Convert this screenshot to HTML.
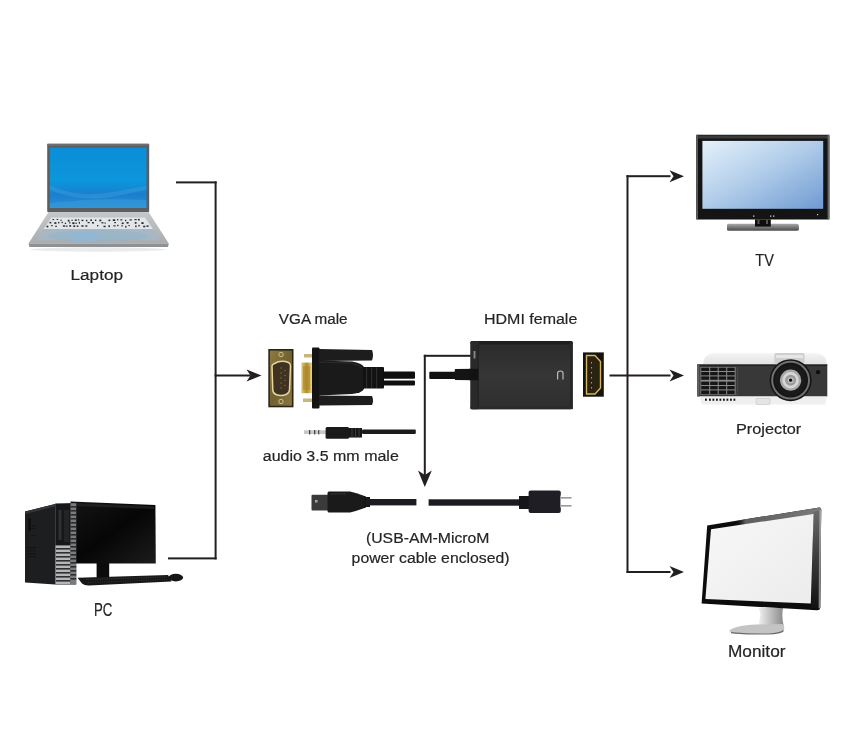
<!DOCTYPE html>
<html><head><meta charset="utf-8">
<style>
html,body{margin:0;padding:0;background:#fff;}
body{width:850px;height:744px;overflow:hidden;position:relative;}
svg{position:absolute;left:0;top:0;will-change:transform;}
text{font-family:"Liberation Sans",sans-serif;fill:#262324;font-size:15.5px;stroke:#262324;stroke-width:0.2px;}
</style></head><body>
<svg width="850" height="744" viewBox="0 0 850 744">
<defs>
  <linearGradient id="lapScreen" x1="0" y1="0" x2="0" y2="1">
    <stop offset="0" stop-color="#0b8ed7"/><stop offset="0.55" stop-color="#0c96db"/><stop offset="0.78" stop-color="#1a7fcd"/><stop offset="1" stop-color="#2790d6"/>
  </linearGradient>
  <linearGradient id="lapBase" x1="0" y1="0" x2="0" y2="1">
    <stop offset="0" stop-color="#c4c8cb"/><stop offset="1" stop-color="#a9adb0"/>
  </linearGradient>
  <linearGradient id="tvScreen" x1="0" y1="0" x2="1" y2="1">
    <stop offset="0" stop-color="#e4f1fa"/><stop offset="0.45" stop-color="#b4cfeb"/><stop offset="1" stop-color="#6f9bd2"/>
  </linearGradient>
  <linearGradient id="monScreen" x1="0" y1="0" x2="1" y2="1">
    <stop offset="0" stop-color="#f7f7f7"/><stop offset="1" stop-color="#ececec"/>
  </linearGradient>
  <linearGradient id="pcMon" x1="0" y1="0" x2="1" y2="1">
    <stop offset="0" stop-color="#141414"/><stop offset="0.5" stop-color="#060606"/><stop offset="1" stop-color="#1c1c1c"/>
  </linearGradient>
  <linearGradient id="hdmiBox" x1="0" y1="0" x2="0" y2="1">
    <stop offset="0" stop-color="#2a2a2a"/><stop offset="0.5" stop-color="#363636"/><stop offset="1" stop-color="#2e2e2e"/>
  </linearGradient>
  <linearGradient id="gold" x1="0" y1="0" x2="1" y2="1">
    <stop offset="0" stop-color="#8e7b40"/><stop offset="0.5" stop-color="#726232"/><stop offset="1" stop-color="#887540"/>
  </linearGradient>
  <linearGradient id="pinGold" x1="0" y1="0" x2="1" y2="0">
    <stop offset="0" stop-color="#e2c870"/><stop offset="0.5" stop-color="#b08a2a"/><stop offset="1" stop-color="#f0da90"/>
  </linearGradient>
  <linearGradient id="tvBase" x1="0" y1="0" x2="0" y2="1">
    <stop offset="0" stop-color="#a8a8a8"/><stop offset="0.5" stop-color="#7a7a7a"/><stop offset="1" stop-color="#4a4a4a"/>
  </linearGradient>
  <linearGradient id="projTop" x1="0" y1="0" x2="0" y2="1">
    <stop offset="0" stop-color="#f4f4f4"/><stop offset="1" stop-color="#e2e2e2"/>
  </linearGradient>
  <linearGradient id="monTop" x1="0" y1="0" x2="1" y2="0">
    <stop offset="0" stop-color="#0c0c0c" stop-opacity="0"/><stop offset="0.12" stop-color="#5e5e5e"/><stop offset="1" stop-color="#7a7a7a"/>
  </linearGradient>
  <linearGradient id="monRight" x1="0" y1="0" x2="0" y2="1">
    <stop offset="0" stop-color="#6a6a6a"/><stop offset="0.5" stop-color="#3a3a3a"/><stop offset="1" stop-color="#111"/>
  </linearGradient>
  <linearGradient id="monStand" x1="0" y1="0" x2="1" y2="0">
    <stop offset="0" stop-color="#f0f0f0"/><stop offset="0.55" stop-color="#b8b8b8"/><stop offset="1" stop-color="#8a8a8a"/>
  </linearGradient>
</defs>

<!-- ===== connector lines ===== -->
<g fill="#231f20">
  <rect x="176" y="181.4" width="40.6" height="2"/>
  <rect x="214.6" y="181.4" width="2" height="378"/>
  <rect x="168" y="557.4" width="48.6" height="2"/>
  <rect x="214.6" y="374.5" width="36" height="2"/>
  <path d="M261.5,375.5 L246.5,369.5 L250.5,375.5 L246.5,381.5 Z"/>

  <rect x="423.8" y="354.8" width="47" height="2"/>
  <rect x="423.8" y="354.8" width="2" height="122"/>
  <path d="M424.8,487 L418,470.5 L424.8,475 L431.8,470.5 Z"/>

  <rect x="626.5" y="175.2" width="2" height="397.8"/>
  <rect x="626.5" y="175.2" width="44" height="2"/>
  <rect x="609.5" y="374.5" width="61" height="2"/>
  <rect x="626.5" y="571" width="44" height="2"/>
  <path d="M684,176.2 L669.5,170.2 L673.5,176.2 L669.5,182.2 Z"/>
  <path d="M684,375.5 L669.5,369.5 L673.5,375.5 L669.5,381.5 Z"/>
  <path d="M684,572 L669.5,566 L673.5,572 L669.5,578 Z"/>
</g>

<!-- ===== labels ===== -->
<text x="70.5" y="280.2" textLength="52.5" lengthAdjust="spacingAndGlyphs">Laptop</text>
<text x="94" y="615.9" textLength="18.3" lengthAdjust="spacingAndGlyphs" style="font-size:17.5px">PC</text>
<text x="278.8" y="324" textLength="68.8" lengthAdjust="spacingAndGlyphs">VGA male</text>
<text x="262.8" y="460.7" textLength="136" lengthAdjust="spacingAndGlyphs">audio 3.5 mm male</text>
<text x="484" y="324" textLength="93.3" lengthAdjust="spacingAndGlyphs">HDMI female</text>
<text x="366" y="543.3" textLength="123.4" lengthAdjust="spacingAndGlyphs">(USB-AM-MicroM</text>
<text x="351.6" y="563.4" textLength="158" lengthAdjust="spacingAndGlyphs">power cable enclosed)</text>
<text x="755.3" y="265.6" textLength="18.6" lengthAdjust="spacingAndGlyphs" style="font-size:16.3px">TV</text>
<text x="736" y="433.5" textLength="65.2" lengthAdjust="spacingAndGlyphs">Projector</text>
<text x="728" y="657.4" textLength="57.5" lengthAdjust="spacingAndGlyphs" style="font-size:16.2px">Monitor</text>


<!-- LAPTOP -->
<g>
  <rect x="47.2" y="143.8" width="102" height="68.5" rx="1.2" fill="#5b5f62"/>
  <rect x="47.2" y="143.8" width="102" height="2" fill="#6c7073"/>
  <rect x="49.8" y="147.6" width="96.6" height="60.4" fill="url(#lapScreen)"/>
  <path d="M49.8,185 C60,190 75,195 95,194 C115,193 130,188 146.4,186 L146.4,190 C128,193 112,198 95,198.5 C75,199 60,194 49.8,190 Z" fill="#48a6e0" opacity="0.35"/>
  <path d="M49.8,203 C75,200 110,198 146.4,200 L146.4,208 L49.8,208 Z" fill="#3a9ad8" opacity="0.6"/>
  <path d="M48.6,212 L148.6,212 L168.8,243.5 L28.5,243.5 Z" fill="url(#lapBase)"/>
  <path d="M28.5,243.5 L168.8,243.5 L168,247 L29.5,247 Z" fill="#8d9194"/>
  <path d="M51.5,217.6 L145,217.6 L153,229 L43.5,229 Z" fill="#e2e6e9"/>
  <g fill="#26292c">
    <rect x="52.5" y="219.0" width="1.6" height="1.1"/>
    <rect x="56.6" y="218.9" width="1.6" height="1.0"/>
    <rect x="60.4" y="219.7" width="1.3" height="1.1"/>
    <rect x="67.8" y="219.8" width="1.7" height="1.8"/>
    <rect x="71.4" y="219.7" width="1.4" height="1.1"/>
    <rect x="74.8" y="219.4" width="1.9" height="1.5"/>
    <rect x="77.9" y="219.3" width="1.3" height="1.2"/>
    <rect x="81.5" y="219.7" width="1.9" height="1.4"/>
    <rect x="85.9" y="219.8" width="1.5" height="1.5"/>
    <rect x="90.4" y="219.3" width="1.5" height="1.8"/>
    <rect x="94.9" y="219.6" width="1.4" height="1.4"/>
    <rect x="99.4" y="219.6" width="1.9" height="1.7"/>
    <rect x="108.5" y="219.6" width="1.8" height="1.5"/>
    <rect x="112.8" y="219.3" width="2.4" height="1.7"/>
    <rect x="117.1" y="219.0" width="1.2" height="1.4"/>
    <rect x="120.3" y="219.3" width="2.1" height="1.1"/>
    <rect x="125.0" y="219.8" width="1.3" height="1.4"/>
    <rect x="129.6" y="219.3" width="2.2" height="1.2"/>
    <rect x="134.4" y="219.1" width="2.3" height="1.1"/>
    <rect x="137.9" y="218.9" width="1.8" height="1.5"/>
    <rect x="49.5" y="221.9" width="1.8" height="1.5"/>
    <rect x="54.3" y="222.2" width="2.1" height="1.7"/>
    <rect x="58.1" y="221.9" width="1.3" height="1.5"/>
    <rect x="61.5" y="221.8" width="1.4" height="1.3"/>
    <rect x="64.8" y="222.7" width="1.3" height="1.3"/>
    <rect x="69.0" y="222.2" width="1.4" height="1.2"/>
    <rect x="72.3" y="222.3" width="2.2" height="1.8"/>
    <rect x="75.5" y="222.6" width="1.3" height="1.3"/>
    <rect x="78.8" y="221.9" width="1.2" height="1.8"/>
    <rect x="87.6" y="222.0" width="2.0" height="1.2"/>
    <rect x="92.1" y="222.0" width="1.8" height="1.6"/>
    <rect x="101.4" y="222.2" width="2.1" height="1.2"/>
    <rect x="104.5" y="222.5" width="1.2" height="1.2"/>
    <rect x="114.3" y="222.0" width="1.6" height="1.2"/>
    <rect x="121.7" y="222.5" width="2.0" height="1.6"/>
    <rect x="126.5" y="222.0" width="2.1" height="1.6"/>
    <rect x="134.8" y="222.0" width="1.7" height="1.8"/>
    <rect x="141.4" y="222.2" width="2.2" height="1.8"/>
    <rect x="46.5" y="225.7" width="1.8" height="1.7"/>
    <rect x="51.2" y="225.0" width="1.5" height="1.2"/>
    <rect x="55.3" y="225.7" width="1.5" height="1.3"/>
    <rect x="62.9" y="225.3" width="2.3" height="1.4"/>
    <rect x="65.9" y="225.6" width="1.7" height="1.1"/>
    <rect x="69.3" y="225.1" width="1.8" height="1.6"/>
    <rect x="73.3" y="225.4" width="1.9" height="1.6"/>
    <rect x="76.8" y="225.4" width="1.5" height="1.6"/>
    <rect x="81.3" y="225.3" width="2.3" height="1.4"/>
    <rect x="85.3" y="225.3" width="2.0" height="1.4"/>
    <rect x="97.0" y="225.0" width="1.3" height="1.4"/>
    <rect x="103.5" y="225.7" width="2.1" height="1.5"/>
    <rect x="108.4" y="225.3" width="1.5" height="1.8"/>
    <rect x="113.4" y="225.3" width="2.2" height="1.1"/>
    <rect x="117.1" y="224.8" width="1.4" height="1.3"/>
    <rect x="121.2" y="225.4" width="1.7" height="1.0"/>
    <rect x="125.2" y="225.8" width="1.3" height="1.8"/>
    <rect x="128.4" y="225.1" width="1.5" height="1.0"/>
    <rect x="135.2" y="225.5" width="1.4" height="1.7"/>
    <rect x="138.4" y="224.9" width="1.3" height="1.6"/>
    <rect x="143.2" y="225.7" width="2.0" height="1.6"/>
    <rect x="146.4" y="225.4" width="2.2" height="1.4"/>
    </g>
  <path d="M43.5,229 L153,229 L160,240 L36,240 Z" fill="#a3b8c8" opacity="0.7"/>
  <ellipse cx="98" cy="236" rx="50" ry="6" fill="#8fb3d0" opacity="0.45"/>
  <ellipse cx="98" cy="249.5" rx="68" ry="2.2" fill="#000" opacity="0.08"/>
  <rect x="71.8" y="232.6" width="26.4" height="8.4" fill="#93b6d3"/>
</g>


<!-- PC -->
<g>
  <path d="M70.5,501.5 L155.4,505 L155.8,563.6 L70.5,563.6 Z" fill="url(#pcMon)"/>
  <path d="M72,503 L154,506.2 L154.3,509 L72,506 Z" fill="#2a2a2a" opacity="0.6"/>
  <rect x="96.6" y="563" width="12.6" height="15" fill="#0c0c0c"/>
  <path d="M77.5,577.8 L168,575 L171.5,581.6 L89,585.6 Q84.5,585.8 82,583.6 Z" fill="#181818"/>
  <ellipse cx="175.8" cy="577.6" rx="7.3" ry="3.8" fill="#151515"/>
  <path d="M86,579.5 L166,577" stroke="#3c3c3c" stroke-width="0.8" stroke-dasharray="1.2 1.1"/>
  <path d="M88,582.5 L167,579.5" stroke="#333" stroke-width="0.8" stroke-dasharray="1.2 1.1"/>
  
  <!-- tower side -->
  <path d="M25,511.6 L55.2,504 L55.2,584.4 L25,582.6 Z" fill="#1d1e20"/>
  <path d="M25,511.6 L55.2,504 L55.2,506.5 L25,514 Z" fill="#333538"/>
  <rect x="28.5" y="518" width="2.2" height="13" fill="#0d0d0d"/>
  <g fill="#151515"><rect x="31" y="525" width="5" height="1.2"/><rect x="31" y="528" width="5" height="1.2"/><rect x="31" y="535" width="5" height="1.2"/>
  <rect x="27" y="547" width="9" height="1.3"/><rect x="27" y="550" width="9" height="1.3"/><rect x="27" y="553" width="9" height="1.3"/><rect x="27" y="556" width="9" height="1.3"/></g>
  <!-- tower front -->
  <path d="M55.2,503.6 L76.2,503 L76.2,584.4 L55.2,584.4 Z" fill="#161718"/>
  <rect x="58.5" y="510" width="3" height="30" fill="#2e3033"/>
  <rect x="64" y="510" width="5" height="32" fill="#222426"/>
  <rect x="55.5" y="545.4" width="15" height="38.6" fill="#b4b6b9"/>
  <g fill="#2e2f31">
    <rect x="56" y="548" width="14" height="1.6"/><rect x="56" y="552" width="14" height="1.6"/><rect x="56" y="556" width="14" height="1.6"/>
    <rect x="56" y="560" width="14" height="1.6"/><rect x="56" y="564" width="14" height="1.6"/><rect x="56" y="568" width="14" height="1.6"/>
    <rect x="56" y="572" width="14" height="1.6"/><rect x="56" y="576" width="14" height="1.6"/><rect x="56" y="580" width="14" height="1.6"/>
  </g>
  <rect x="70.5" y="503.2" width="5.7" height="81.2" fill="#7a7c7f"/>
  <g fill="#2a2b2d">
    <rect x="70.5" y="506" width="5.7" height="1.6"/><rect x="70.5" y="510" width="5.7" height="1.6"/><rect x="70.5" y="514" width="5.7" height="1.6"/><rect x="70.5" y="518" width="5.7" height="1.6"/>
    <rect x="70.5" y="522" width="5.7" height="1.6"/><rect x="70.5" y="526" width="5.7" height="1.6"/><rect x="70.5" y="530" width="5.7" height="1.6"/><rect x="70.5" y="534" width="5.7" height="1.6"/>
    <rect x="70.5" y="538" width="5.7" height="1.6"/><rect x="70.5" y="542" width="5.7" height="1.6"/><rect x="70.5" y="546" width="5.7" height="1.6"/><rect x="70.5" y="550" width="5.7" height="1.6"/>
    <rect x="70.5" y="554" width="5.7" height="1.6"/><rect x="70.5" y="558" width="5.7" height="1.6"/><rect x="70.5" y="562" width="5.7" height="1.6"/><rect x="70.5" y="566" width="5.7" height="1.6"/>
    <rect x="70.5" y="570" width="5.7" height="1.6"/><rect x="70.5" y="574" width="5.7" height="1.6"/><rect x="70.5" y="578" width="5.7" height="1.6"/>
  </g>
</g>


<!-- VGA -->
<g>
  <rect x="268.3" y="349" width="25.2" height="58.3" fill="#2a2414"/>
  <rect x="269.9" y="350.6" width="22" height="55.1" fill="url(#gold)"/>
  <circle cx="281" cy="354.5" r="2.2" fill="none" stroke="#d9c68a" stroke-width="0.9"/>
  <circle cx="281" cy="401.5" r="2.2" fill="none" stroke="#d9c68a" stroke-width="0.9"/>
  <path d="M274.5,363.5 Q281,359.5 288.5,362.5 Q290.5,363.5 290.5,366 L289.5,390 Q289,393.5 286,394.5 Q281,396.5 276,394.5 Q273,393.5 272.8,390 L272,366 Q272,364.5 274.5,363.5 Z" fill="#3f3222" stroke="#e6d69c" stroke-width="1.5"/>
  <g fill="#8a7640"><circle cx="281" cy="368" r="0.7"/><circle cx="281" cy="373" r="0.7"/><circle cx="281" cy="378" r="0.7"/><circle cx="281" cy="383" r="0.7"/><circle cx="281" cy="388" r="0.7"/>
  <circle cx="285" cy="370.5" r="0.7"/><circle cx="285" cy="375.5" r="0.7"/><circle cx="285" cy="380.5" r="0.7"/><circle cx="285" cy="385.5" r="0.7"/></g>
  <!-- gold shell side -->
  <rect x="301.4" y="362.6" width="11" height="30.6" fill="url(#pinGold)"/>
  <rect x="303" y="366" width="7" height="24" fill="#a8852a" opacity="0.6"/>
  <rect x="304" y="354" width="8" height="3.5" fill="#c9b47a"/>
  <rect x="303" y="398.5" width="9" height="3.5" fill="#c9b47a"/>
  <!-- black body -->
  <rect x="312" y="347.5" width="7.5" height="61" rx="1" fill="#141414"/>
  <path d="M319,349 L372,350 Q374,354.5 372,360.5 L319,361 Z" fill="#1d1d1d"/>
  <path d="M319,395.5 L372,396 Q374,400.5 372,405 L319,405.5 Z" fill="#1d1d1d"/>
  <path d="M319,360.5 L352,361.5 Q362,363 364,367 L364,389 Q362,393 352,394 L319,395.5 Z" fill="#1a1a1a"/>
  <path d="M319,362 L350,363 Q358,364 362,368" fill="none" stroke="#2e2e2e" stroke-width="1"/>
  <rect x="363" y="367" width="21" height="21.5" rx="1" fill="#121212"/>
  <g fill="#2c2c2c"><rect x="366" y="367.5" width="1.2" height="20.5"/><rect x="371" y="367.5" width="1.2" height="20.5"/><rect x="376" y="367.5" width="1.2" height="20.5"/></g>
  <rect x="383" y="371.6" width="32" height="7.2" rx="1" fill="#0f0f0f"/>
  <rect x="383" y="380.6" width="32" height="4.8" rx="1" fill="#0f0f0f"/>
</g>
<!-- AUDIO -->
<g>
  <rect x="304" y="430.3" width="22" height="3.8" fill="#c8c8c8"/>
  <rect x="309" y="430" width="1.3" height="4.4" fill="#444"/><rect x="314" y="430" width="1.3" height="4.4" fill="#444"/><rect x="318" y="430" width="1.3" height="4.4" fill="#555"/>
  <rect x="325.6" y="427" width="23.5" height="11.7" rx="1.5" fill="#1a1a1a"/>
  <rect x="349" y="428" width="13" height="9.5" fill="#161616"/>
  <g fill="#3a3a3a"><rect x="351.5" y="428" width="1" height="9.5"/><rect x="355" y="428" width="1" height="9.5"/><rect x="358.5" y="428" width="1" height="9.5"/></g>
  <rect x="362" y="429.5" width="53.8" height="4.5" rx="1" fill="#1c1c1c"/>
</g>


<!-- HDMI ADAPTER -->
<g>
  <rect x="429.3" y="371.7" width="27" height="7.3" rx="1" fill="#111"/>
  <path d="M455,369 L478,368.8 L478,380.2 L455,380 Q453.5,374.5 455,369 Z" fill="#141414"/>
  <rect x="470.5" y="341" width="102.2" height="68.2" rx="2" fill="url(#hdmiBox)"/>
  <rect x="470.5" y="341" width="102.2" height="3.5" rx="1.5" fill="#1f1f1f"/>
  <rect x="470.5" y="341" width="8.5" height="68.2" rx="1.5" fill="#2a2a2a"/>
  <rect x="477.5" y="344" width="1.2" height="64" fill="#222"/>
  <rect x="570" y="342" width="2.7" height="67" fill="#262626"/>
  <rect x="470.5" y="406.5" width="102.2" height="2.7" fill="#2a2a2a"/>
  <rect x="473.6" y="351" width="1.8" height="7.5" fill="#8a8a8a"/>
  <rect x="469" y="368.8" width="9.5" height="11.4" fill="#121212"/>
  <path d="M557.6,379.6 L557.6,373.2 Q557.6,371 560.3,371 Q563,371 563,373.2 L563,379.6" fill="none" stroke="#bdbdbd" stroke-width="1.2"/>
  <!-- HDMI port -->
  <rect x="583" y="352.4" width="20.8" height="44.3" fill="#15140c"/>
  <path d="M586.5,355.5 L595,355.5 L600.5,361.5 L600.5,388 L595,394 L586.5,394 Z" fill="#2a2310" stroke="#d6b565" stroke-width="1.4"/>
  <g fill="#b89a50"><rect x="591" y="362" width="1" height="1.5"/><rect x="591" y="367" width="1" height="1.5"/><rect x="591" y="372" width="1" height="1.5"/><rect x="591" y="377" width="1" height="1.5"/><rect x="591" y="382" width="1" height="1.5"/><rect x="591" y="387" width="1" height="1.5"/></g>
</g>
<!-- USB CABLE -->
<g>
  <rect x="311.5" y="494.7" width="17" height="15.7" rx="1" fill="#3a3a3a"/>
  <rect x="313" y="496" width="14" height="13" fill="#3a3a3a"/>
  <rect x="315" y="500" width="2.5" height="2.5" fill="#aaa"/>
  <path d="M329,491.4 L350,491.4 Q355,492.5 366,496.5 L366,507.5 Q355,511.5 350,512.5 L329,512.5 Q327.5,512.5 327.5,511 L327.5,493 Q327.5,491.4 329,491.4 Z" fill="#1a1a1a"/>
  <path d="M330,494 L346,493.8" stroke="#3a3a3a" stroke-width="0.8"/>
  <rect x="364" y="497" width="6" height="10" fill="#161616"/>
  <rect x="366" y="499" width="50.4" height="6.4" fill="#1b1b22"/>
  <rect x="428.6" y="499.3" width="92" height="6.4" fill="#1b1b22"/>
  <rect x="519" y="496" width="11" height="13" fill="#15151a"/>
  <rect x="528.6" y="490.4" width="32.2" height="22.6" rx="2" fill="#1e1e24"/>
  <rect x="560.5" y="495.5" width="11.5" height="12" fill="#ffffff"/>
  <rect x="560.5" y="497" width="11" height="1.6" fill="#9a9a9a"/>
  <rect x="560.5" y="505" width="11" height="1.6" fill="#9a9a9a"/>
</g>


<!-- TV -->
<g>
  <rect x="696.2" y="134.7" width="133.2" height="84.7" rx="1" fill="#141414"/>
  <rect x="697" y="135.5" width="131.6" height="3" fill="#3a3a3a"/>
  <rect x="696.2" y="134.7" width="1.8" height="84.7" fill="#5a5a5a"/>
  <rect x="827.6" y="134.7" width="1.8" height="84.7" fill="#6a6a6a"/>
  <rect x="702.4" y="140.9" width="120.8" height="67.9" fill="url(#tvScreen)"/>
  <g fill="#d0d0d0"><rect x="753" y="215.5" width="1.4" height="1.2"/><rect x="770" y="215.5" width="1.4" height="1.2"/><rect x="773" y="215.5" width="1.4" height="1.2"/><rect x="817" y="214" width="1.2" height="1.2"/></g>
  <path d="M727,225 Q727,223.8 729,223.8 L796.5,223.8 Q798.9,223.8 798.9,225.5 L798.9,229.5 Q798.9,230.7 796.5,230.7 L729,230.7 Q727,230.7 727,229.5 Z" fill="url(#tvBase)"/>
  <rect x="755" y="219.4" width="15.8" height="7.2" fill="#0e0e0e"/>
  <rect x="757.5" y="220" width="2" height="4" fill="#555"/><rect x="766" y="220" width="2" height="4" fill="#555"/>
</g>
<!-- PROJECTOR -->
<g>
  <path d="M703,364 Q704,353.3 714,353.3 L814,353.3 Q822,353.3 825.5,358 L827,364.5 L697.5,364.5 Z" fill="url(#projTop)"/>
  <path d="M697.2,364.5 L827.3,364.5 L827.3,396.4 L697.2,396.4 Z" fill="#383838"/>
  <rect x="697.2" y="364.5" width="130.1" height="1.3" fill="#1e1e1e"/>
  <rect x="697.2" y="364.5" width="2.2" height="31.9" fill="#5f5f5f"/>
  <path d="M699.5,396.4 L827,396.4 L825,404.5 L702,404.5 Z" fill="#efefef"/>
  <g fill="#1a1a1a"><rect x="705" y="398.6" width="1.8" height="2.2"/><rect x="709" y="398.6" width="1.8" height="2.2"/><rect x="712.5" y="398.6" width="1.8" height="2.2"/><rect x="716" y="398.6" width="1.8" height="2.2"/><rect x="719.5" y="398.6" width="1.8" height="2.2"/><rect x="723" y="398.6" width="1.8" height="2.2"/><rect x="726.5" y="398.6" width="1.8" height="2.2"/><rect x="730" y="398.6" width="1.8" height="2.2"/><rect x="733.5" y="398.6" width="1.8" height="2.2"/></g>
  <rect x="756" y="398.5" width="14" height="6" rx="1" fill="#e4e4e4" stroke="#c4c4c4" stroke-width="0.6"/>
  <rect x="700.5" y="367" width="37" height="27.5" fill="#8c8c8c"/>
  <g fill="#161616">
    <rect x="701.2" y="367.6" width="8" height="3.4"/><rect x="710.2" y="367.6" width="7.5" height="3.4"/><rect x="718.7" y="367.6" width="7.5" height="3.4"/><rect x="727.2" y="367.6" width="7.5" height="3.4"/>
    <rect x="701.2" y="372" width="8" height="3.4"/><rect x="710.2" y="372" width="7.5" height="3.4"/><rect x="718.7" y="372" width="7.5" height="3.4"/><rect x="727.2" y="372" width="7.5" height="3.4"/>
    <rect x="701.2" y="376.4" width="8" height="3.4"/><rect x="710.2" y="376.4" width="7.5" height="3.4"/><rect x="718.7" y="376.4" width="7.5" height="3.4"/><rect x="727.2" y="376.4" width="7.5" height="3.4"/>
    <rect x="701.2" y="381.6" width="8" height="3.4"/><rect x="710.2" y="381.6" width="7.5" height="3.4"/><rect x="718.7" y="381.6" width="7.5" height="3.4"/><rect x="727.2" y="381.6" width="7.5" height="3.4"/>
    <rect x="701.2" y="386" width="8" height="3.4"/><rect x="710.2" y="386" width="7.5" height="3.4"/><rect x="718.7" y="386" width="7.5" height="3.4"/><rect x="727.2" y="386" width="7.5" height="3.4"/>
    <rect x="701.2" y="390.4" width="8" height="3.6"/><rect x="710.2" y="390.4" width="7.5" height="3.6"/><rect x="718.7" y="390.4" width="7.5" height="3.6"/><rect x="727.2" y="390.4" width="7.5" height="3.6"/>
  </g>
  <rect x="735.6" y="367" width="2" height="27.5" fill="#383838"/>
  <circle cx="818.1" cy="372.1" r="2.2" fill="#0e0e0e"/>
  <rect x="774.4" y="352.9" width="30.2" height="11.5" rx="2" fill="#cfcfcf"/>
  <rect x="776" y="355" width="27" height="3" fill="#e6e6e6"/>
  <circle cx="790.6" cy="380.2" r="21" fill="#151515"/>
  <circle cx="790.6" cy="380.2" r="18.4" fill="none" stroke="#707070" stroke-width="2"/>
  <circle cx="790.6" cy="380.2" r="15.5" fill="#1a1a1a"/>
  <circle cx="790.6" cy="380.2" r="10.6" fill="#a8a8a8"/>
  <circle cx="790.6" cy="380.2" r="8.2" fill="#d6d6d6"/>
  <circle cx="790.6" cy="380.2" r="5.5" fill="#9a9a9a"/>
  <circle cx="790.6" cy="380.2" r="3" fill="#c0c0c0"/>
  <circle cx="790.6" cy="380.2" r="1.6" fill="#0a0a0a"/>
</g>
<!-- MONITOR -->
<g>
  <path d="M758.5,608 L783,608 Q781.5,616 783.5,625 L783.5,627 L760,627 Q758,622 760.5,616 Q760,611 758.5,608 Z" fill="url(#monStand)"/>
  <path d="M729.5,630.5 Q735,625.5 756,624.5 L782,624 Q785,625 784,629.5 Q782,633.8 768,633.8 L738,633.8 Q729,633.5 729.5,630.5 Z" fill="#c4c4c4"/>
  <path d="M731,632.6 Q740,634 768,634 Q781,633.5 783.5,630.5" fill="none" stroke="#6a6a6a" stroke-width="1.2"/>
  <path d="M707.2,525.4 L819.5,507.5 Q821.5,507.6 821.2,510 L820.2,608 Q820,610.3 817,610.2 L701.6,603.6 Z" fill="#0c0c0c"/>
  <path d="M735,521 L819.5,507.5 Q821.5,507.6 821.2,510 L821,514 L735,526.5 Z" fill="url(#monTop)"/>
  <path d="M813.5,512 L821.2,510 L820.2,608 L811,608 Z" fill="url(#monRight)"/>
  <path d="M819.4,510 L821.2,510 L820.2,608 L818.6,608.5 Z" fill="#b8b8b8" opacity="0.7"/>
  <path d="M711,529.2 L813.6,514 L810.8,603.6 L705.4,598.9 Z" fill="url(#monScreen)"/>
</g>
<!-- DEVICES -->
</svg>
</body></html>
